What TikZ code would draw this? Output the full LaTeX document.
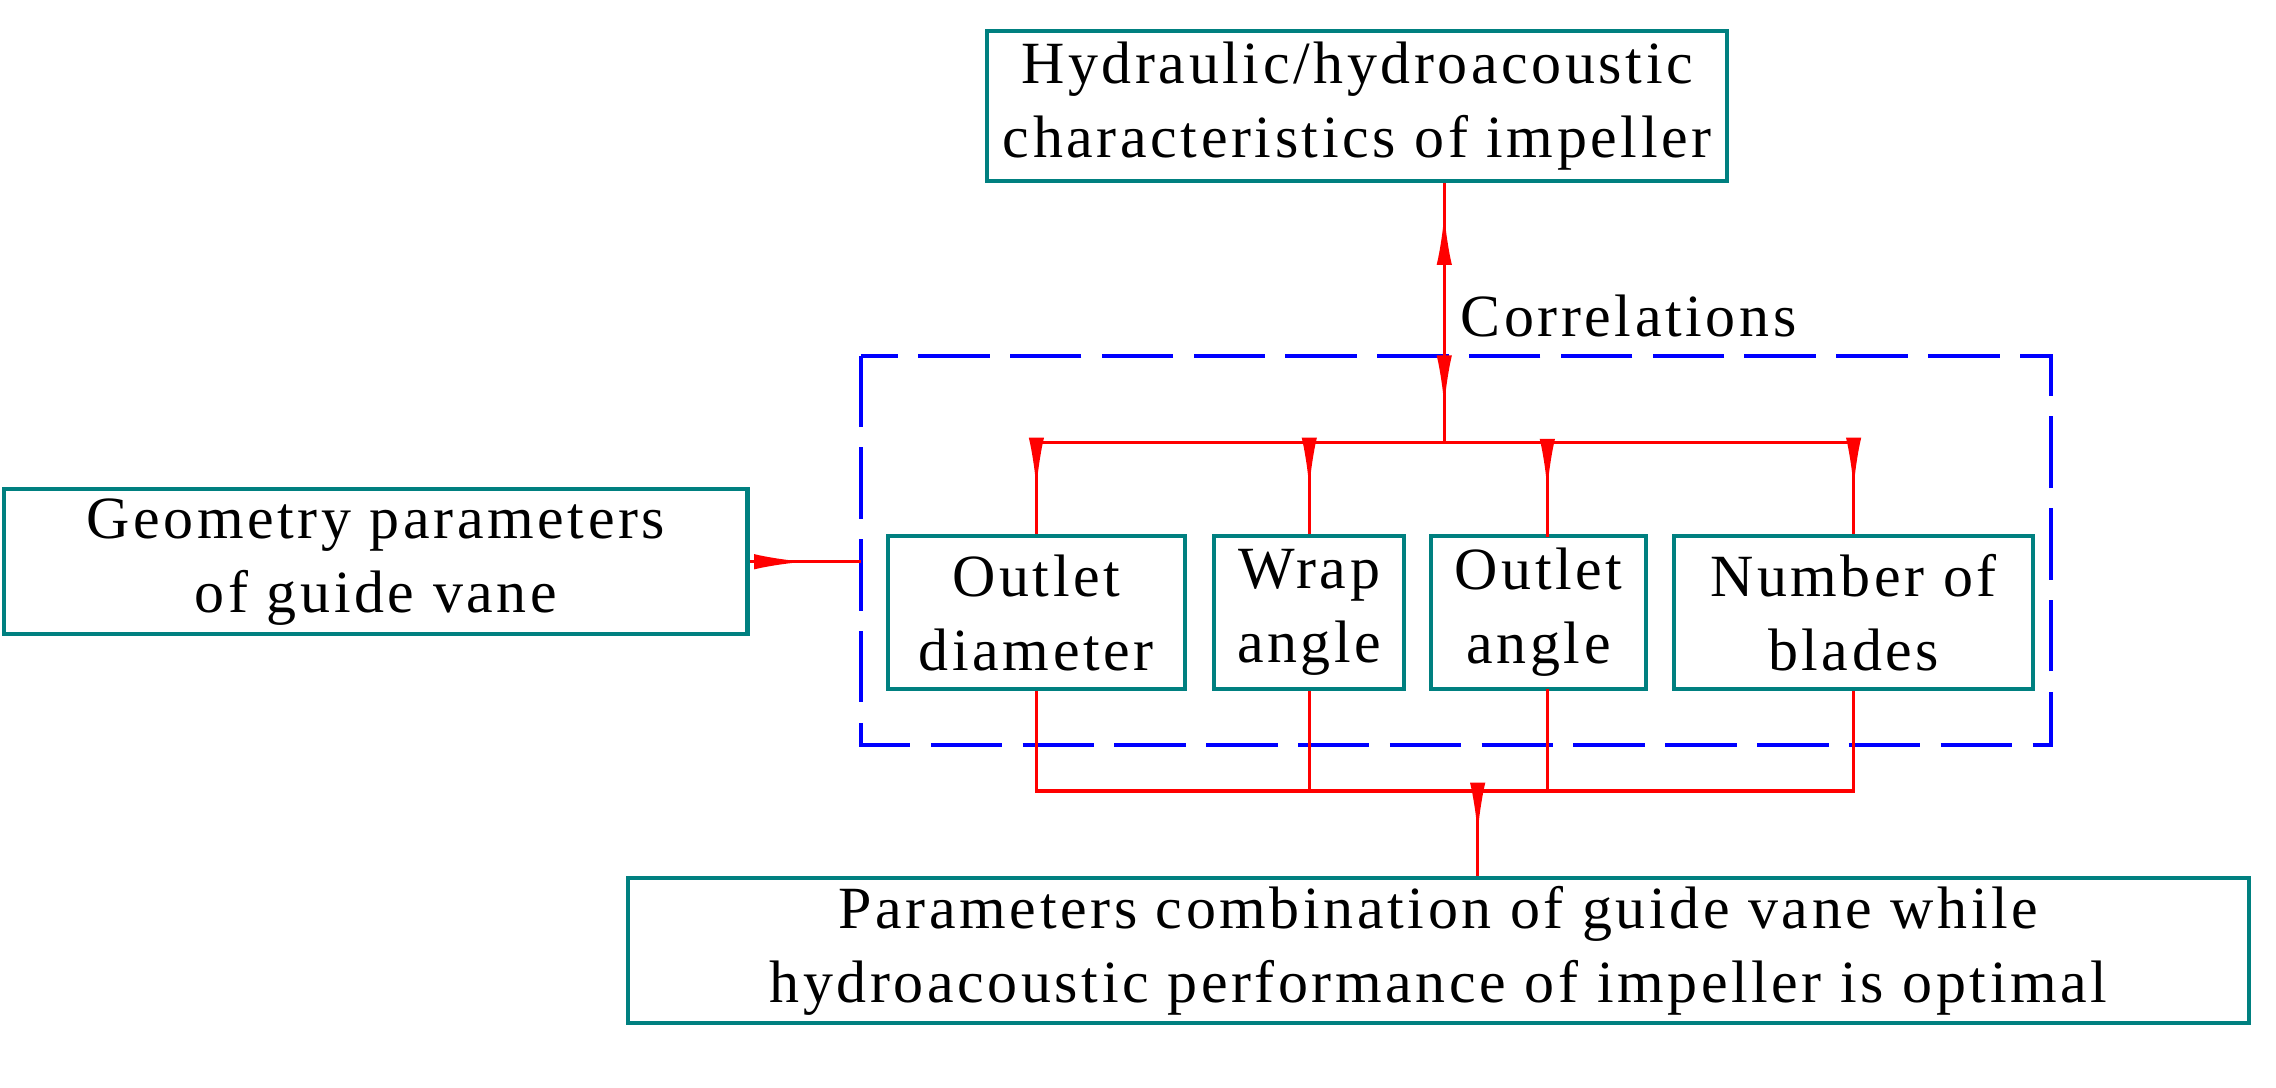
\documentclass[tikz,border=0pt]{standalone}
\usepackage{fontspec}
\setmainfont[LetterSpace=6]{Liberation Serif}
\usetikzlibrary{arrows.meta,decorations.markings,positioning}
\definecolor{boxteal}{RGB}{0,128,128}
\tikzstyle{block}=[draw=boxteal,line width=1.6pt,align=center,inner sep=0pt,font=\fontsize{23.5}{29}\selectfont]
\tikzstyle{link}=[draw=red,line width=1.3pt]
\tikzstyle{flow}=[link,postaction={decorate},decoration={markings,mark=at position 0.5 with {\arrow{Latex[length=20pt,width=6pt]}}}]
\tikzstyle{both}=[link,postaction={decorate},decoration={markings,
  mark=at position 0.12 with {\arrowreversed{Latex[length=20pt,width=6pt]}},
  mark=at position 0.86 with {\arrow{Latex[length=20pt,width=6pt]}}}]

\begin{document}
\begin{tikzpicture}[x=0.02cm,y=-0.02cm]
\useasboundingbox (0,0) rectangle (1568,749);

% the dashed frame
\draw[blue,line width=1.6pt,dash pattern=on 28pt off 8pt] (593,245) rectangle (1413,513);

% blocks
\node[block,minimum width=10.2cm,minimum height=2.06cm] (impeller) at (935,73) {Hydraulic/hydroacoustic\\characteristics of impeller};
\node[block,minimum width=10.24cm,minimum height=2cm] (geometry) at (259,387) {Geometry parameters\\of guide vane};
\node[block,minimum width=4.1cm,minimum height=2.1cm] (diameter) at (714,422) {Outlet\\diameter};
\node[block,minimum width=2.62cm,minimum height=2.1cm] (wrap) at (902,422) {Wrap\\angle};
\node[block,minimum width=2.96cm,minimum height=2.1cm] (angle) at (1060,422) {Outlet\\angle};
\node[block,minimum width=4.94cm,minimum height=2.1cm] (blades) at (1277,422) {Number of\\blades};
\node[block,minimum width=22.34cm,minimum height=2cm] (result) at (991,655) {Parameters combination of guide vane while\\hydroacoustic performance of impeller is optimal};
\node[font=\fontsize{23.5}{29}\selectfont,anchor=west] (corr) at (1000,218) {Correlations};

% connectors
\coordinate (top) at (995,305);
\coordinate (low) at (1018,545);
\coordinate (frame) at (593,387);
\path[both] (impeller.south -| top) -- (top);
\path[link] (diameter.north |- top) -- (blades.north |- top);
\foreach \name in {diameter,wrap,blades}
  \path[flow] (\name.north |- top) -- (\name.north);
\path[flow] (1066,305) -- (1066,370);
\path[flow] (geometry.east) -- (frame);
\path[link] (diameter.south) -- (diameter.south |- low) -- (blades.south |- low) -- (blades.south);
\path[link] (wrap.south) -- (wrap.south |- low);
\path[link] (1066,475) -- (1066,545);
\path[flow] (low) -- (result.north -| low);
\end{tikzpicture}
\end{document}
